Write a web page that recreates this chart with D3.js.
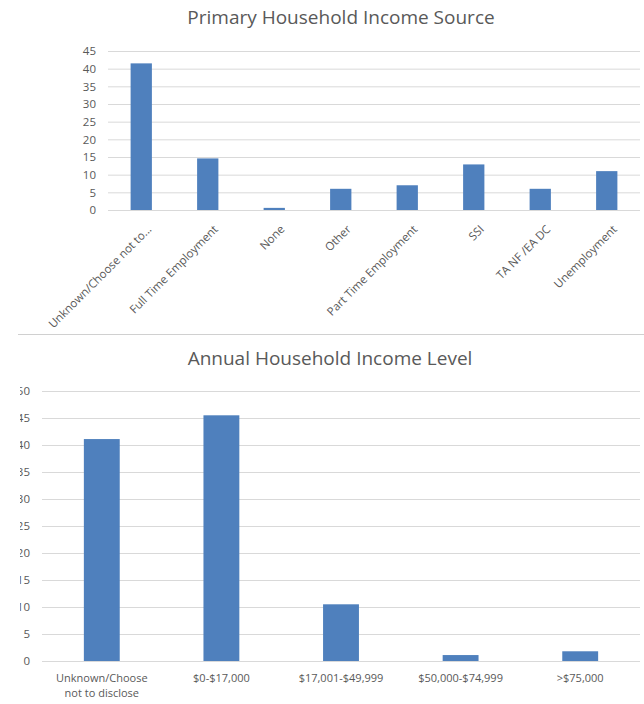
<html>
<head>
  <script src="https://unpkg.com/d3@7/dist/d3.min.js"></script>
  <style>
    body { margin: 0; background: #fff; }
    text { font-family: "Open Sans", Lato, sans-serif; fill: #595959; }
  </style>
</head>
<body>
  <svg id="container" width="644" height="704"></svg>
<script>
  // primary household income source
  const sourceCats = ['Unknown/Choose not to...', 'Full Time Employment', 'None', 'Other',
    'Part Time Employment', 'SSI', 'TA NF /EA DC', 'Unemployment'];
  const sourceVals = [41.5, 14.6, 0.6, 6, 7, 12.9, 6, 11];
  const sourceTicks = [0, 5, 10, 15, 20, 25, 30, 35, 40, 45];

  // annual household income level
  const levelCats = ['Unknown/Choose not to disclose', '$0-$17,000', '$17,001-$49,999', '$50,000-$74,999', '>$75,000'];
  const levelVals = [41.1, 45.5, 10.5, 1.1, 1.8];
  const levelTicks = [0, 5, 10, 15, 20, 25, 30, 35, 40, 45, 50];

  const barColor = '#4f80bd';
  const gridColor = '#d9d9d9';

  const svg = d3.select('#container');

  // the bottom chart is cropped on the left in the original screenshot
  svg.append('clipPath').attr('id', 'leftcrop')
    .append('rect').attr('x', 20).attr('y', 0).attr('width', 700).attr('height', 704);

  // ---- chart 1 ----
  svg.append('text')
    .attr('x', 341).attr('y', 24)
    .attr('text-anchor', 'middle')
    .style('font-size', '19px')
    .text('Primary Household Income Source');

  const x1 = d3.scaleBand()
    .domain(sourceCats)
    .range([108, 640])
    .paddingInner(0.68)
    .paddingOuter(0.34);
  const y1 = d3.scaleLinear().domain([0, 45]).range([210, 51]);

  const g1 = svg.append('g');
  g1.append('g')
    .attr('transform', 'translate(108,0)')
    .call(d3.axisLeft(y1).tickValues(sourceTicks).tickSize(-532).tickPadding(12))
    .call(g => g.select('.domain').remove())
    .call(g => g.selectAll('line').attr('stroke', gridColor))
    .call(g => g.selectAll('text').style('font-size', '11.5px').attr('fill', '#595959'));

  g1.selectAll('rect')
    .data(sourceVals)
    .enter().append('rect')
    .attr('x', (d, i) => x1(sourceCats[i]))
    .attr('y', d => y1(d))
    .attr('width', x1.bandwidth())
    .attr('height', d => y1(0) - y1(d))
    .attr('fill', barColor);

  g1.selectAll('.xlab')
    .data(sourceCats)
    .enter().append('text')
    .attr('class', 'xlab')
    .attr('text-anchor', 'end')
    .attr('transform', d => `translate(${x1(d) + x1.bandwidth() / 2 + 11},${y1(0) + 20}) rotate(-45)`)
    .style('font-size', '11.5px')
    .text(d => d);

  // separator
  svg.append('line')
    .attr('x1', 18).attr('x2', 644)
    .attr('y1', 334.5).attr('y2', 334.5)
    .attr('stroke', '#d0d0d0');

  // ---- chart 2 ----
  svg.append('text')
    .attr('x', 330).attr('y', 365)
    .attr('text-anchor', 'middle')
    .style('font-size', '19px')
    .text('Annual Household Income Level');

  const x2 = d3.scaleBand()
    .domain(levelCats)
    .range([42, 640])
    .paddingInner(0.7)
    .paddingOuter(0.35);
  const y2 = d3.scaleLinear().domain([0, 50]).range([661, 391]);

  const g2 = svg.append('g');
  g2.append('g')
    .attr('clip-path', 'url(#leftcrop)')
    .append('g')
    .attr('transform', 'translate(42,0)')
    .call(d3.axisLeft(y2).tickValues(levelTicks).tickSize(-598).tickPadding(12))
    .call(g => g.select('.domain').remove())
    .call(g => g.selectAll('line').attr('stroke', gridColor))
    .call(g => g.selectAll('text').style('font-size', '11.5px').attr('fill', '#595959'));

  g2.selectAll('rect')
    .data(levelVals)
    .enter().append('rect')
    .attr('x', (d, i) => x2(levelCats[i]))
    .attr('y', d => y2(d))
    .attr('width', x2.bandwidth())
    .attr('height', d => y2(0) - y2(d))
    .attr('fill', barColor);

  const lab2 = g2.selectAll('.xlab')
    .data(levelCats)
    .enter().append('text')
    .attr('class', 'xlab')
    .attr('text-anchor', 'middle')
    .attr('y', 682)
    .style('font-size', '11px');
  lab2.each(function (d) {
    const parts = d === 'Unknown/Choose not to disclose' ? ['Unknown/Choose', 'not to disclose'] : [d];
    const cx = x2(d) + x2.bandwidth() / 2;
    parts.forEach((p, k) => {
      d3.select(this).append('tspan')
        .attr('x', cx)
        .attr('dy', k === 0 ? 0 : 15)
        .text(p);
    });
  });
</script>
</body>
</html>
